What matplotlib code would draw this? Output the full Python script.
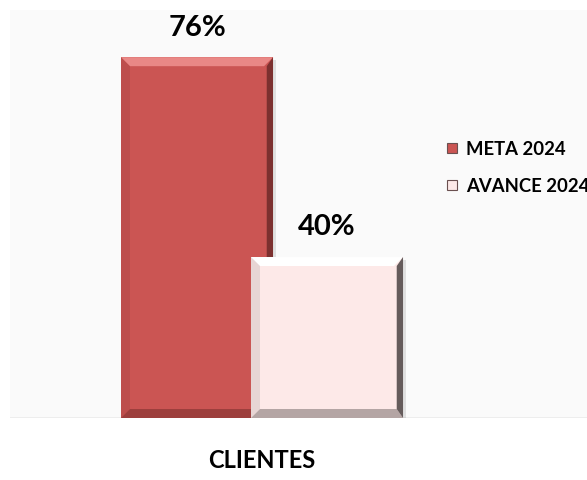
import matplotlib.pyplot as plt
from matplotlib.patches import Polygon, Rectangle
from matplotlib.legend_handler import HandlerPatch

# data
category = "CLIENTES"
series = ["META 2024", "AVANCE 2024"]
values = [76, 40]
colors = ["#CB5553", "#FDE9E8"]
edge_light = ["#E98886", "#FFFFFF"]
edge_dark = ["#6E2A29", "#4A4242"]
edge_mid = ["#8E3836", "#9C8E8E"]

plt.rcParams['font.family'] = ['Lato', 'DejaVu Sans']

fig = plt.figure(figsize=(5.87, 4.8), dpi=100)
fig.patch.set_facecolor("white")
ax = fig.add_axes([10 / 587, 62 / 480, 577 / 587, 408 / 480])
ax.set_facecolor("#FAFAFA")

width = 0.4
offsets = [-0.171, 0.171]
bars = []
for i, (name, v) in enumerate(zip(series, values)):
    b = ax.bar(offsets[i], v, width=width, color=colors[i], label=name,
               zorder=2 + i, edgecolor="none")
    bars.append(b[0])

ax.set_xlim(-0.663, 0.855)
ax.set_ylim(11, 84.5)
ax.axhline(11, color="#EBEBEB", lw=1.2, zorder=1)
for s in ax.spines.values():
    s.set_visible(False)
ax.set_xticks([])
ax.set_yticks([])

fig.text(262 / 587, 1 - 461 / 480, category, ha="center", va="center",
         fontsize=17, fontweight="bold", color="black")

# bevel edges drawn from the bar geometry
fig.canvas.draw()
ax_y0 = ax.get_window_extent().y0
bev = 9
for i, bar in enumerate(bars):
    bb = bar.get_window_extent()
    x0, y0, x1, y1 = bb.x0, max(bb.y0, ax_y0), bb.x1, bb.y1
    z = 2 + i + 0.5
    # drop shadow to the right
    ax.add_patch(Rectangle((x1, y0), 3, y1 - y0 - 3, transform=None,
                           color="#000000", alpha=0.10, zorder=z - 0.6, lw=0))
    top = [(x0, y1), (x1, y1), (x1 - bev, y1 - bev), (x0 + bev, y1 - bev)]
    left = [(x0, y1), (x0 + bev, y1 - bev), (x0 + bev, y0 + bev), (x0, y0)]
    right = [(x1, y1), (x1, y0), (x1 - bev * 0.7, y0 + bev), (x1 - bev * 0.7, y1 - bev)]
    bottom = [(x0, y0), (x1, y0), (x1 - bev * 0.7, y0 + bev), (x0 + bev, y0 + bev)]
    ax.add_patch(Polygon(top, transform=None, color=edge_light[i], lw=0, zorder=z))
    ax.add_patch(Polygon(left, transform=None, color=edge_mid[i], lw=0, zorder=z, alpha=0.22))
    ax.add_patch(Polygon(bottom, transform=None, color=edge_mid[i], lw=0, zorder=z, alpha=0.75))
    ax.add_patch(Polygon(right, transform=None, color=edge_dark[i], lw=0, zorder=z, alpha=0.85))
    ax.annotate(f"{values[i]}%", (bar.get_x() + bar.get_width() / 2, bar.get_height()),
                xytext=(0, 12), textcoords="offset points", ha="center", va="bottom",
                fontsize=21, fontweight="bold", color="black")


class BevelHandler(HandlerPatch):
    def create_artists(self, legend, orig_handle, xdescent, ydescent, width, height, fontsize, trans):
        s = height * 0.72
        x = width - s
        y = (height - s) / 2
        r = Rectangle((x, y), s, s, facecolor=orig_handle.get_facecolor(),
                      edgecolor="#6A5050", lw=0.8, transform=trans)
        return [r]


leg = fig.legend(handles=bars, labels=series, loc="center left",
                 bbox_to_anchor=(430 / 587, 1 - 168 / 480), frameon=False,
                 prop={"weight": "bold", "size": 13.3}, handlelength=0.58,
                 handleheight=0.8, handletextpad=0.45, labelspacing=1.05,
                 handler_map={Rectangle: BevelHandler()})

fig.savefig("out.png", dpi=100, facecolor="white")
